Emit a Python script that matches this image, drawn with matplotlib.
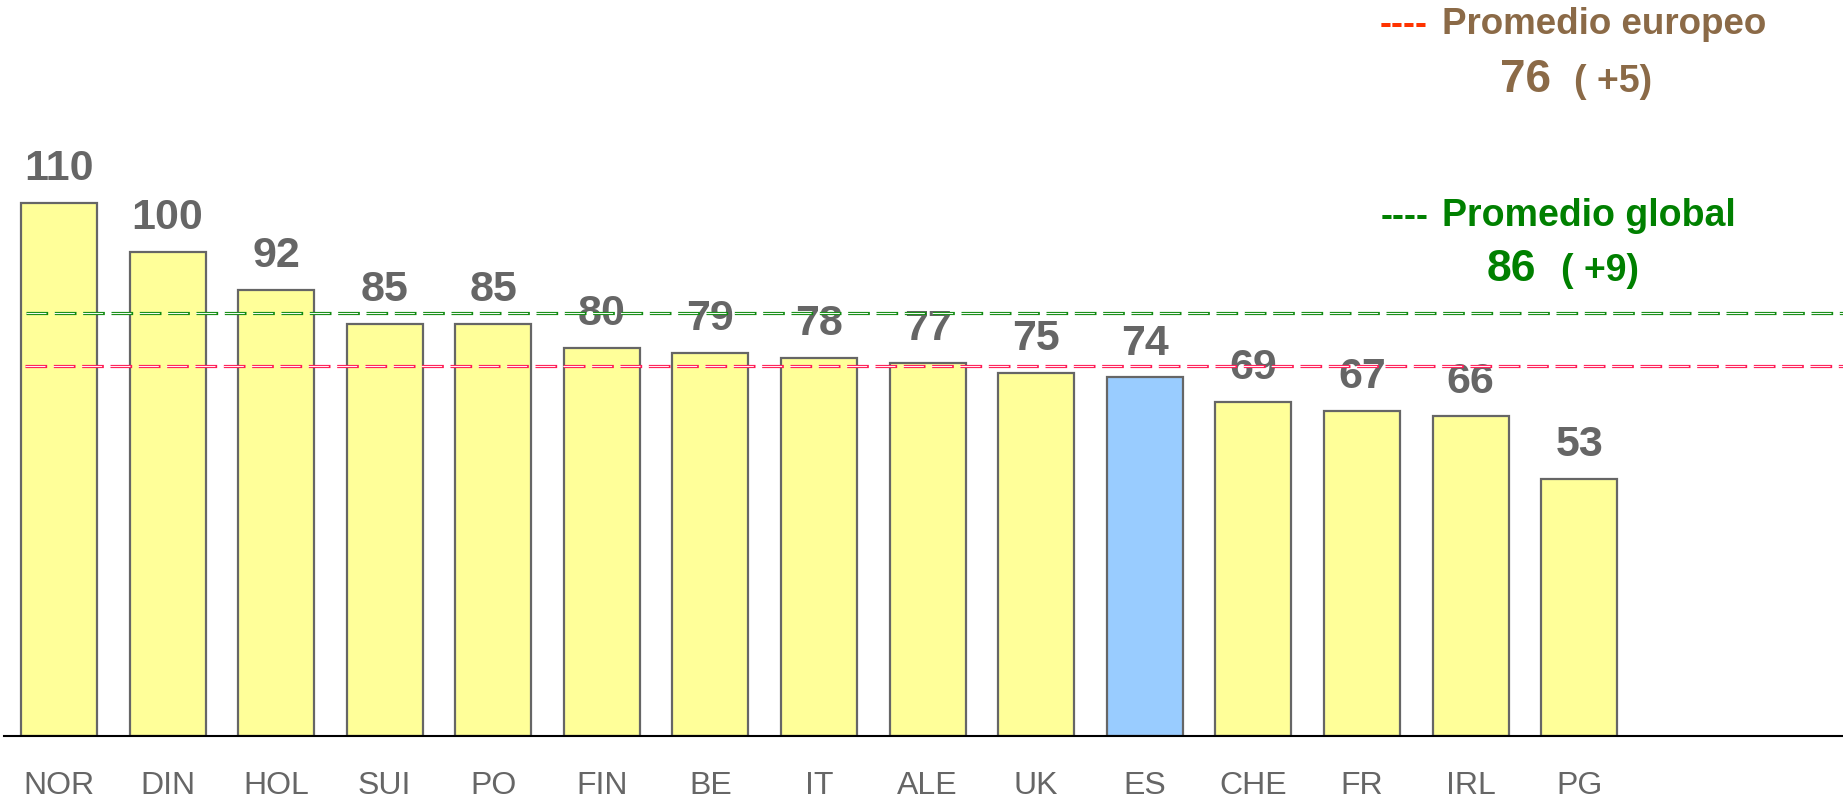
import matplotlib
matplotlib.use('Agg')
import matplotlib.pyplot as plt

# datos
paises = ['NOR', 'DIN', 'HOL', 'SUI', 'PO', 'FIN', 'BE', 'IT', 'ALE', 'UK', 'ES', 'CHE', 'FR', 'IRL', 'PG']
valores = [110, 100, 92, 85, 85, 80, 79, 78, 77, 75, 74, 69, 67, 66, 53]
destacado = 'ES'

prom_europeo = 76
dif_europeo = '+5'
prom_global = 86
dif_global = '+9'
# altura a la que están dibujadas las líneas en el original
linea_global = 87.3
linea_europeo = 76.4

W, H = 1843, 798
plt.rcParams['lines.scale_dashes'] = False

fig = plt.figure(figsize=(W / 100, H / 100), dpi=100)
ax = fig.add_axes([4 / W, (H - 735.5) / H, 1 - 4 / W, 735.5 / H])

colores = ['#99CCFF' if p == destacado else '#FFFF99' for p in paises]
x = list(range(len(paises)))
ax.bar(x, valores, width=0.70, color=colores, edgecolor='#666666', linewidth=1.6, zorder=2)

for xi, v in zip(x, valores):
    ax.annotate(str(v), (xi, v), xytext=(0, 16.5), textcoords='offset points',
                ha='center', va='baseline', fontsize=31, fontweight='bold',
                color='#666666', family='Liberation Sans', zorder=2.5)

# líneas de promedio (trazo doble para imitar el contorno)
for y, c_out, c_in, x0 in [(linea_global, '#108A10', '#F2FAF2', -0.30),
                           (linea_europeo, '#FF1A55', '#FFF0F4', -0.31)]:
    ax.hlines(y, x0, 17, colors=c_out, linewidth=2.3, linestyles=(0, (15.6, 4.8)), zorder=3)
    ax.hlines(y, x0, 17, colors=c_in, linewidth=0.8, linestyles=(0.4, (14.8, 5.6)), zorder=3)

ax.set_xlim(-0.506, 16.43)
ax.set_ylim(0, 152)
for s in ['top', 'right', 'left']:
    ax.spines[s].set_visible(False)
ax.spines['bottom'].set_linewidth(1.5)
ax.spines['bottom'].set_color('black')
ax.set_yticks([])
ax.set_xticks(x)
ax.set_xticklabels(paises, fontsize=23, color='#666666', family=['Liberation Sans Narrow', 'Liberation Sans'])
ax.tick_params(axis='x', length=0, pad=25.5)

# leyenda a mano, en píxeles
def px(xp, yp):
    return xp / W, 1 - yp / H

marron = '#8B6A47'
verde = '#008000'
fig.text(*px(1380, 34), '----', color='#FF3300', fontsize=26, fontweight='bold',
         family='Liberation Sans', va='baseline')
fig.text(*px(1442, 34), 'Promedio europeo', color=marron, fontsize=26.5, fontweight='bold',
         family='Liberation Sans', va='baseline')
fig.text(*px(1500, 92), str(prom_europeo), color=marron, fontsize=33, fontweight='bold',
         family='Liberation Sans', va='baseline')
fig.text(*px(1574, 92), f'( {dif_europeo})', color=marron, fontsize=27, fontweight='bold',
         family='Liberation Sans', va='baseline')

fig.text(*px(1381, 226), '----', color=verde, fontsize=26, fontweight='bold',
         family='Liberation Sans', va='baseline')
fig.text(*px(1442, 226), 'Promedio global', color=verde, fontsize=27, fontweight='bold',
         family='Liberation Sans', va='baseline')
fig.text(*px(1487, 281), str(prom_global), color=verde, fontsize=32, fontweight='bold',
         family='Liberation Sans', va='baseline')
fig.text(*px(1561, 281), f'( {dif_global})', color=verde, fontsize=27, fontweight='bold',
         family='Liberation Sans', va='baseline')

fig.savefig('out.png', dpi=100)
